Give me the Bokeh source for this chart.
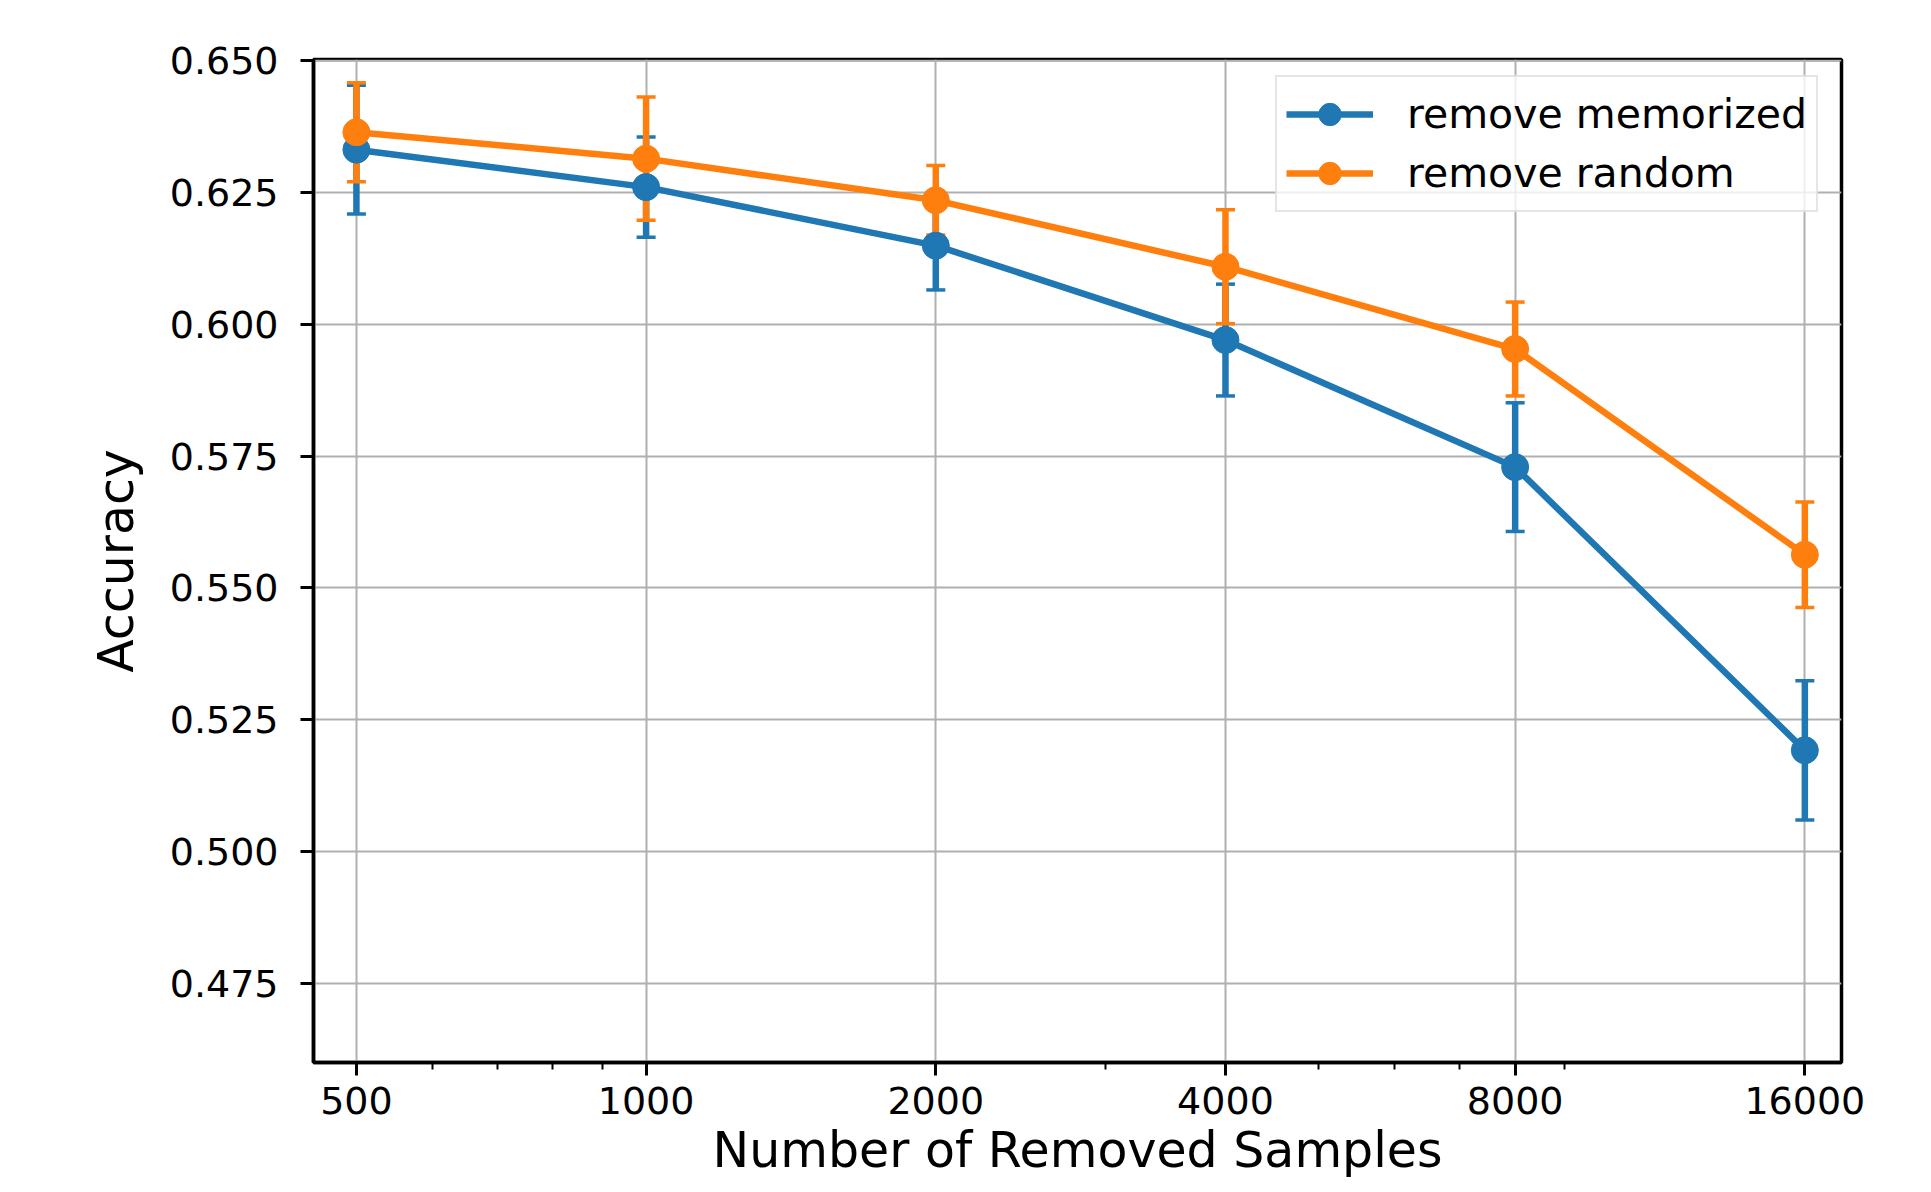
from bokeh.plotting import figure
from bokeh.models import Range1d, FixedTicker, NumeralTickFormatter, Legend, LegendItem
from bokeh.embed import file_html
from bokeh.resources import INLINE

# ---- data ----
removed = [500, 1000, 2000, 4000, 8000, 16000]
mem_acc = [0.6331, 0.6260, 0.6149, 0.5970, 0.5729, 0.5192]
mem_err = [0.0122, 0.0095, 0.0084, 0.0106, 0.0122, 0.0132]
rand_acc = [0.6364, 0.6314, 0.6235, 0.6109, 0.5953, 0.5563]
rand_err = [0.0094, 0.0117, 0.0066, 0.0108, 0.0089, 0.0100]

series_names = ["remove memorized", "remove random"]
series_colors = ["#1f77b4", "#ff7f0e"]

x_ticks = [500, 1000, 2000, 4000, 8000, 16000]
x_minor_ticks = [600, 700, 800, 900, 3000, 5000, 6000, 7000, 9000]
y_ticks = [0.475, 0.500, 0.525, 0.550, 0.575, 0.600, 0.625, 0.650]

x_label = "Number of Removed Samples"
y_label = "Accuracy"

FONT = "DejaVu Sans"

p = figure(
    width=1931, height=1192,
    x_axis_type="log",
    x_range=Range1d(451.2, 17467),
    y_range=Range1d(0.460, 0.6502),
    output_backend="svg", toolbar_location=None,
    min_border_left=313, min_border_right=90,
    min_border_top=59, min_border_bottom=130,
)
p.background_fill_color = "white"
p.border_fill_color = "white"
p.outline_line_color = "black"
p.outline_line_width = 3.5

# axes
xt = FixedTicker(ticks=x_ticks, minor_ticks=x_minor_ticks)
yt = FixedTicker(ticks=y_ticks)
p.xaxis.ticker = xt
p.yaxis.ticker = yt
p.xgrid.ticker = xt
p.ygrid.ticker = yt
p.xaxis.formatter = NumeralTickFormatter(format="0")
p.yaxis.formatter = NumeralTickFormatter(format="0.000")

for ax in (p.xaxis, p.yaxis):
    ax.axis_line_color = "black"
    ax.axis_line_width = 3.5
    ax.major_tick_out = 13
    ax.major_tick_in = 0
    ax.major_tick_line_width = 3
    ax.major_tick_line_color = "black"
    ax.major_label_text_font = FONT
    ax.major_label_text_font_size = "38px"
    ax.major_label_text_color = "black"
    ax.axis_label_text_font = FONT
    ax.axis_label_text_font_size = "49px"
    ax.axis_label_text_font_style = "normal"
    ax.axis_label_text_color = "black"

p.xaxis.minor_tick_out = 7
p.xaxis.minor_tick_in = 0
p.xaxis.minor_tick_line_width = 2
p.xaxis.minor_tick_line_color = "black"
p.yaxis.minor_tick_line_color = None

p.xaxis.major_label_standoff = 11
p.yaxis.major_label_standoff = 22
p.xaxis.axis_label = x_label
p.yaxis.axis_label = y_label
p.xaxis.axis_label_standoff = 5
p.yaxis.axis_label_standoff = 22

for g in (p.xgrid, p.ygrid):
    g.grid_line_color = "#b0b0b0"
    g.grid_line_width = 2

# ---- error bars (drawn below the data lines, as in matplotlib) ----
all_acc = [mem_acc, rand_acc]
all_err = [mem_err, rand_err]
for acc, err, col in zip(all_acc, all_err, series_colors):
    lower = [a - e for a, e in zip(acc, err)]
    upper = [a + e for a, e in zip(acc, err)]
    p.segment(x0=removed, y0=lower, x1=removed, y1=upper,
              line_color=col, line_width=6.5)
    p.scatter(x=removed, y=lower, marker="dash", size=19,
              line_color=col, line_width=3.5)
    p.scatter(x=removed, y=upper, marker="dash", size=19,
              line_color=col, line_width=3.5)

# ---- data lines and markers ----
items = []
for acc, col, name in zip(all_acc, series_colors, series_names):
    ln = p.line(x=removed, y=acc, line_color=col, line_width=6.5)
    mk = p.scatter(x=removed, y=acc, marker="circle", size=27,
                   fill_color=col, line_color=col, line_width=1)
    items.append(LegendItem(label=name, renderers=[ln, mk]))

legend = Legend(items=items, location=(962, 850))
legend.glyph_width = 87
legend.glyph_height = 56
legend.label_height = 56
legend.spacing = 3
legend.padding = 9
legend.margin = 0
legend.label_standoff = 34
legend.label_text_font = FONT
legend.label_text_font_size = "41px"
legend.label_text_color = "black"
legend.border_line_color = "#cccccc"
legend.border_line_width = 2
legend.background_fill_color = "white"
legend.background_fill_alpha = 0.8
p.add_layout(legend)

open("out.html", "w").write(file_html(p, INLINE))
